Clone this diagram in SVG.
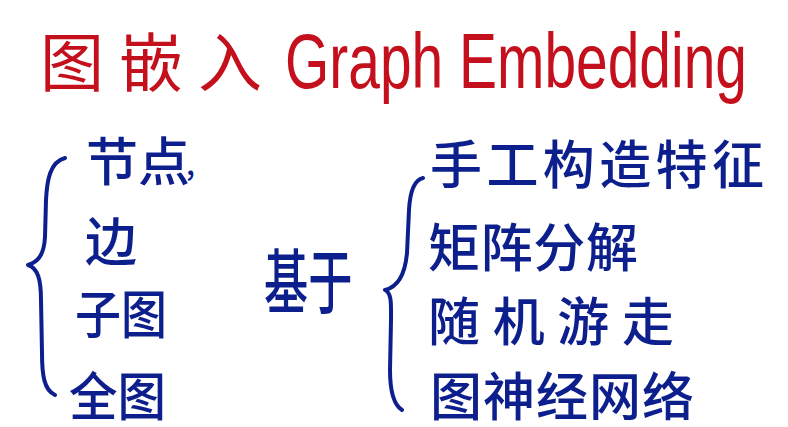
<svg xmlns="http://www.w3.org/2000/svg" width="788" height="427" viewBox="0 0 788 427">
<style>
.t{font-family:"Noto Sans CJK SC","Noto Sans",sans-serif;}
.red{fill:#c4101c;}
.blue{fill:#0c1f8c;font-size:52px;}
.br{fill:none;stroke:#0c1f8c;stroke-width:4;stroke-linecap:round;stroke-linejoin:round;}
</style>
<rect width="788" height="427" fill="#ffffff"/>
<g id="title">
<text class="t red" x="40" y="86" font-size="64" textLength="222" lengthAdjust="spacing">图嵌入</text>
<text class="red" x="285" y="88" font-family="Liberation Sans, sans-serif" font-size="78" textLength="462" lengthAdjust="spacingAndGlyphs">Graph Embedding</text>
</g>
<g id="connectors">
<path class="br" d="M65,158 C50,162 47,180 46,200 L45,237 C44,255 38,262 28,265 C38,268 41,280 41,300 L42,353 C42,375 44,390 55,395"/>
<path class="br" d="M423,178 C414,180 410,192 409,210 L407,253 C405,275 398,287 385,290 C392,293 391,305 391,320 L390,370 C390,392 394,405 402,410"/>
</g>
<g id="node-jiedian"><text class="t blue" x="86" y="181" font-size="48" font-weight="500">节点<tspan dx="-4" dy="-6" font-size="30">,</tspan></text></g>
<g id="node-bian"><text class="t blue" x="85" y="261" font-weight="500">边</text></g>
<g id="node-zitu"><text class="t blue" x="75" y="334" font-size="46" font-weight="500" textLength="92" lengthAdjust="spacingAndGlyphs">子图</text></g>
<g id="node-quantu"><text class="t blue" x="69" y="416" font-size="48" font-weight="500" textLength="97" lengthAdjust="spacingAndGlyphs">全图</text></g>
<g id="node-jiyu"><text class="t blue" transform="translate(264,308) scale(0.85,1.35)" font-size="48" font-weight="500">基于</text></g>
<g id="node-shougong"><text class="t blue" x="430" y="184" font-weight="500" textLength="334" lengthAdjust="spacing">手工构造特征</text></g>
<g id="node-juzhen"><text class="t blue" x="428" y="267" font-weight="500" textLength="210" lengthAdjust="spacing">矩阵分解</text></g>
<g id="node-suiji"><text class="t blue" x="428" y="341" font-weight="500" textLength="246" lengthAdjust="spacing">随机游走</text></g>
<g id="node-tushenjing"><text class="t blue" x="430" y="416" font-weight="500" textLength="264" lengthAdjust="spacing">图神经网络</text></g>
</svg>
